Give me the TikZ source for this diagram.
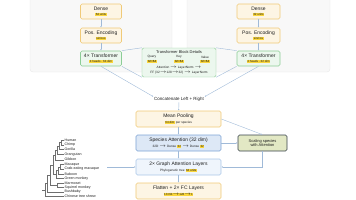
\documentclass[tikz,border=0pt]{standalone}
\usepackage{fontspec}
\setmainfont{Liberation Sans}
\usetikzlibrary{arrows.meta,positioning,calc}
\definecolor{GnnCream}{RGB}{253,245,228}
\definecolor{GnnGold}{RGB}{240,202,120}
\definecolor{GnnTag}{RGB}{250,214,60}
\definecolor{GnnMint}{RGB}{236,247,238}
\definecolor{GnnGreen}{RGB}{140,205,150}
\definecolor{GnnSky}{RGB}{221,232,246}
\definecolor{GnnBlue}{RGB}{125,163,212}
\definecolor{GnnIce}{RGB}{239,245,252}
\definecolor{GnnIceLine}{RGB}{170,198,232}
\definecolor{GnnPanel}{RGB}{248,248,248}
\definecolor{GnnPanelLine}{RGB}{232,232,232}
\definecolor{GnnArrow}{RGB}{160,186,216}
\definecolor{GnnOlive}{RGB}{226,232,196}
\definecolor{GnnDark}{RGB}{55,65,75}
\definecolor{GnnInk}{RGB}{30,30,30}
\definecolor{GnnTree}{RGB}{110,110,110}
\newcommand{\gnntag}[1]{{\setlength{\fboxsep}{0.5pt}\colorbox{GnnTag}{\fontsize{3}{3.5}\selectfont #1}}}
\newcommand{\gnnsub}[1]{{\fontsize{3.2}{3.8}\selectfont #1}}
\tikzset{
  gnn/box/.style={
    draw,
    line width=0.7bp,
    rounded corners=1.5bp,
    align=center,
    text=GnnInk,
    inner sep=0.5bp,
    font=\fontsize{5}{5.6}\selectfont
  },
  gnn/cream/.style={gnn/box, draw=GnnGold, fill=GnnCream},
  gnn/mint/.style={gnn/box, draw=GnnGreen, fill=GnnMint},
  gnn/sky/.style={gnn/box, draw=GnnBlue, fill=GnnSky},
  gnn/ice/.style={gnn/box, draw=GnnIceLine, fill=GnnIce},
  gnn/olive/.style={gnn/box, draw=GnnDark, fill=GnnOlive, font=\fontsize{4}{4.8}\selectfont},
  gnn/panel/.style={fill=GnnPanel, draw=GnnPanelLine, line width=0.4bp, rounded corners=3bp},
  gnn/arrow/.style={-{Latex[length=1.6bp,width=1.3bp]}, line width=0.4bp, draw=GnnArrow},
  gnn/zoomline/.style={line width=0.4bp, draw=GnnArrow},
  gnn/label/.style={font=\fontsize{3.2}{3.8}\selectfont, text=GnnInk, inner sep=0.3bp},
  gnn/title/.style={font=\fontsize{4}{4.8}\selectfont, text=GnnInk, inner sep=0.3bp},
  gnn/leaf/.style={anchor=west, font=\fontsize{3.6}{4}\selectfont, text=GnnInk, inner sep=0.2bp},
  gnn/branch/.style={draw=GnnTree, line width=0.4bp}
}
\begin{document}
\begin{tikzpicture}[x=1bp,y=-1bp]
  \useasboundingbox (0,0) rectangle (356,200);
  % encoder panels
  \path[gnn/panel] (30,-6) rectangle (172,72);
  \path[gnn/panel] (187,-6) rectangle (330,72);

  % left encoder
  \node[gnn/cream,minimum width=41bp,minimum height=15bp] (denseL) at (101,11.5) {Dense\\\gnntag{64 units}};
  \node[gnn/cream,minimum width=41bp,minimum height=15bp] (posL) at (101,35.5) {Pos. Encoding\\\gnntag{sin/cos}};
  \node[gnn/mint,minimum width=41bp,minimum height=15bp] (transL) at (101,58.5) {4× Transformer\\\gnntag{4 heads · 64 dim}};
  % right encoder
  \node[gnn/cream,minimum width=43bp,minimum height=15bp] (denseR) at (258.5,11.5) {Dense\\\gnntag{32 units}};
  \node[gnn/cream,minimum width=43bp,minimum height=15bp] (posR) at (258.5,35.5) {Pos. Encoding\\\gnntag{sin/cos}};
  \node[gnn/mint,minimum width=43bp,minimum height=15bp] (transR) at (258.5,58.5) {4× Transformer\\\gnntag{4 heads · 32 dim}};

  \draw[gnn/arrow] (denseL) -- (posL);
  \draw[gnn/arrow] (posL) -- (transL);
  \draw[gnn/arrow] (denseR) -- (posR);
  \draw[gnn/arrow] (posR) -- (transR);

  % transformer block details
  \node[gnn/mint,line width=0.4bp,minimum width=74bp,minimum height=29bp] (details) at (179,62.5) {};
  \node[gnn/title] (detailsTitle) at (179,52) {Transformer Block Details};
  \node[gnn/label] (query) at (152,57) {Query};
  \node[gnn/label] (key) at (179,57) {Key};
  \node[gnn/label] (value) at (205,57) {Value};
  \node[inner sep=0pt] (queryTag) at (152,61.5) {\gnntag{32×64}};
  \node[inner sep=0pt] (keyTag) at (179,61.5) {\gnntag{32×64}};
  \node[inner sep=0pt] (valueTag) at (205,61.5) {\gnntag{32×64}};
  \node[gnn/label] (flowA) at (179,68) {Attention $\rightarrow$ LayerNorm $\rightarrow$};
  \node[gnn/label] (flowB) at (179,73) {FF (32$\rightarrow$128$\rightarrow$32) $\rightarrow$ LayerNorm};

  \draw[gnn/zoomline] (transL.north east) -- (details.north west);
  \draw[gnn/zoomline] (transL.south east) -- (details.south west);
  \draw[gnn/zoomline] (transR.north west) -- (details.north east);
  \draw[gnn/zoomline] (transR.south west) -- (details.south east);

  % fusion
  \node[font=\fontsize{4.5}{5}\selectfont, text=GnnInk, inner sep=0.5bp] (concat) at (179,99.5) {Concatenate Left + Right};
  \draw[gnn/arrow] (transL.south) -- (concat.north west);
  \draw[gnn/arrow] (transR.south) -- (concat.north east);

  \node[gnn/cream,minimum width=85bp,minimum height=16bp] (mean) at (178.5,119) {Mean Pooling\\\gnnsub{\gnntag{64 dim} per species}};
  \node[gnn/sky,minimum width=85bp,minimum height=16bp] (att) at (178.5,143) {Species Attention (32 dim)\\\gnnsub{32D $\rightarrow$ Dense \gnntag{32} $\rightarrow$ Dense \gnntag{32}}};
  \node[gnn/ice,minimum width=85bp,minimum height=16bp] (graph) at (178.5,167) {2× Graph Attention Layers\\\gnnsub{Phylogenetic tree \gnntag{64 units}}};
  \node[gnn/cream,minimum width=85bp,minimum height=16bp] (flat) at (178.5,191) {Flatten + 2× FC Layers\\\gnntag{13×64$\rightarrow$128$\rightarrow$1}};

  \draw[gnn/arrow] (concat) -- (mean);
  \draw[gnn/arrow] (mean) -- (att);
  \draw[gnn/arrow] (att) -- (graph);
  \draw[gnn/arrow] (graph) -- (flat);

  \node[gnn/olive,minimum width=49bp,minimum height=16bp] (scale) at (262.5,143) {Scaling species\\with Attention};
  \draw[gnn/arrow] (mean.east) -- (scale.north);
  \draw[gnn/arrow] (att.east) -- (scale.west);
  \draw[gnn/arrow] (scale.south) |- (graph.east);

  % phylogenetic tree
  \foreach \name/\ypos [count=\i] in {Human/140, Chimp/144.7, Gorilla/149.4, Orangutan/154.6, Gibbon/159.7,
      Macaque/164.3, Crab-eating macaque/169, Baboon/173.8, Green monkey/178.5, Marmoset/183,
      Squirrel monkey/187.4, Bushbaby/192, Chinese tree shrew/196.3} {
    \coordinate (leaf\i) at (64,\ypos);
    \node[gnn/leaf] (sp\i) at (64.3,\ypos) {\name};
  }
  \coordinate (hc) at (61.5,142.4);
  \coordinate (hcg) at (59.5,145.9);
  \coordinate (apes) at (57.5,150.2);
  \coordinate (hom) at (55.5,155);
  \coordinate (mac) at (60.5,166.7);
  \coordinate (pap) at (58.5,170.2);
  \coordinate (owm) at (56.5,174.4);
  \coordinate (cat) at (53,164.7);
  \coordinate (nwm) at (57.5,185.2);
  \coordinate (anth) at (50,175);
  \coordinate (prim) at (47.5,183.5);
  \coordinate (root) at (45,189.9);
  \coordinate (rootstub) at (42,189.9);
  \draw[gnn/branch] (hc) |- (leaf1) (hc) |- (leaf2);
  \draw[gnn/branch] (hcg) |- (hc) (hcg) |- (leaf3);
  \draw[gnn/branch] (apes) |- (hcg) (apes) |- (leaf4);
  \draw[gnn/branch] (hom) |- (apes) (hom) |- (leaf5);
  \draw[gnn/branch] (mac) |- (leaf6) (mac) |- (leaf7);
  \draw[gnn/branch] (pap) |- (mac) (pap) |- (leaf8);
  \draw[gnn/branch] (owm) |- (pap) (owm) |- (leaf9);
  \draw[gnn/branch] (cat) |- (hom) (cat) |- (owm);
  \draw[gnn/branch] (nwm) |- (leaf10) (nwm) |- (leaf11);
  \draw[gnn/branch] (anth) |- (cat) (anth) |- (nwm);
  \draw[gnn/branch] (prim) |- (anth) (prim) |- (leaf12);
  \draw[gnn/branch] (root) |- (prim) (root) |- (leaf13);
  \draw[gnn/branch] (rootstub) -- (root);

  \coordinate (treeout) at (107,167);
  \draw[gnn/arrow] (treeout) -- (graph.west);
\end{tikzpicture}
\end{document}
